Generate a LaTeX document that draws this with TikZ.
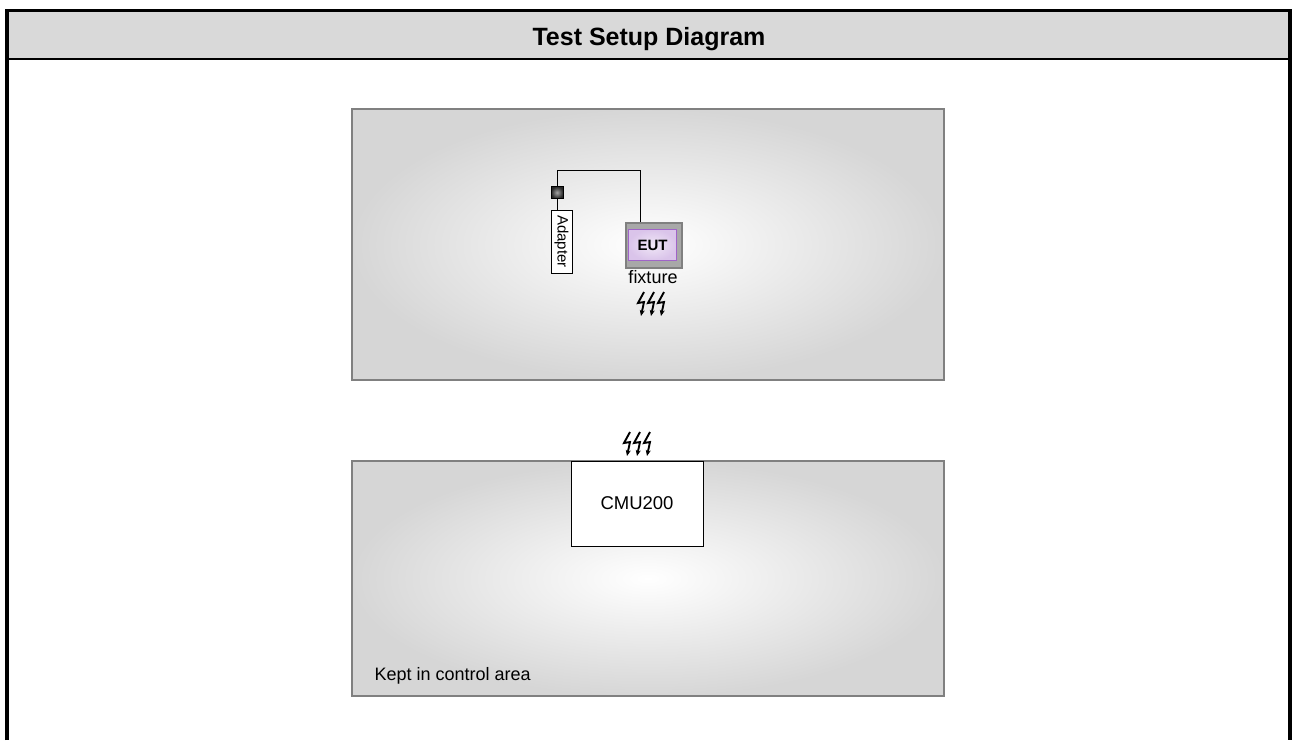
\documentclass[tikz,border=0pt]{standalone}
\usepackage{fontspec}
\setmainfont{Liberation Sans}
\usepackage{tikz}
\usetikzlibrary{arrows.meta, positioning, calc, shadings}
\definecolor{headgray}{RGB}{217,217,217}
\definecolor{panelline}{RGB}{128,128,128}
\definecolor{fixgray}{RGB}{168,168,168}
\definecolor{eutline}{RGB}{160,100,200}
\definecolor{eutfill}{RGB}{218,196,234}

\begin{document}
\begin{tikzpicture}[x=1pt,y=-1pt,
  panel/.style={draw=panelline, line width=1.5pt, inner color=white, outer color=black!16},
  bolt/.style={line width=1.9pt, -{Stealth[length=6pt,width=5pt]}},
  txt/.style={font=\fontsize{18}{20}\selectfont}]
\useasboundingbox (0,0) rectangle (1293,740);
% frame and header
\fill[headgray] (7,10.5) rectangle (1290,59);
\draw[line width=3.5pt] (7,740) -- (7,10.5) -- (1290,10.5) -- (1290,740);
\draw[line width=2pt] (7,59) -- (1290,59);
\node (title) [anchor=base] at (649,45) {\fontsize{25}{30}\selectfont\bfseries Test Setup Diagram};
% test area
\draw[panel] (352,109) rectangle (944,380);
\node (fix) [draw=panelline, fill=fixgray, line width=1.5pt, minimum width=56, minimum height=45, inner sep=0] at (654,245.5) {};
\node (eut) [draw=eutline, line width=1.5pt, inner color=eutfill!40, outer color=eutfill, minimum width=48, minimum height=31, inner sep=0] at (652.5,245) {\fontsize{15}{17}\selectfont\bfseries EUT};
\node (fixlab) [txt, anchor=base] at (653,283) {fixture};
\node (sq) [draw, line width=1pt, inner color=gray!70, outer color=black!85, minimum size=12, inner sep=0] at (557,192.5) {};
\node (ad) [draw, fill=white, rotate=-90, minimum width=63, minimum height=21, inner sep=0] at (561.5,241.5) {\fontsize{15}{17}\selectfont Adapter};
\coordinate (bend) at (640,170);
\draw[line width=1pt] (sq.north) |- (bend) -- (bend |- fix.north);
\draw[line width=1pt] (sq.south) -- (sq.south |- ad.west);
% control area
\draw[panel] (352,461) rectangle (944,696);
\node (cmu) [draw, fill=white, line width=1pt, minimum width=132, minimum height=85, inner sep=0] at (637,503.5) {\fontsize{18.5}{20}\selectfont CMU200};
\node (ctrl) [txt, anchor=base west] at (371,680) {Kept in control area};
% radiation symbols
\foreach \bx/\by in {651/304, 637/444} {
  \foreach \k in {-10,0,10} {
    \draw[bolt] (\bx+\k+3,\by-12) -- (\bx+\k-3,\by-1) -- (\bx+\k+3,\by-2) -- (\bx+\k,\by+12);
  }
}
\end{tikzpicture}
\end{document}
